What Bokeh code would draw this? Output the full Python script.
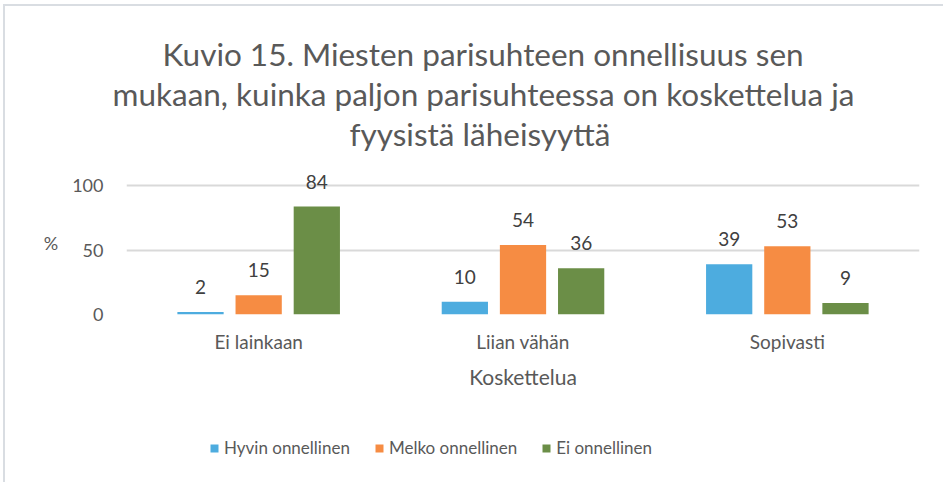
from bokeh.plotting import figure
from bokeh.layouts import column
from bokeh.models import FactorRange, Range1d, Legend, LegendItem, Title, ColumnDataSource, FixedTicker
from bokeh.transform import dodge
from bokeh.core.properties import value
from bokeh.embed import file_html
from bokeh.resources import INLINE

categories = ["Ei lainkaan", "Liian vähän", "Sopivasti"]
series = ["Hyvin onnellinen", "Melko onnellinen", "Ei onnellinen"]
hyvin = [2, 10, 39]
melko = [15, 54, 53]
ei = [84, 36, 9]
y_ticks = [0, 50, 100]
title_lines = ["Kuvio 15. Miesten parisuhteen onnellisuus sen",
               "mukaan, kuinka paljon parisuhteessa on koskettelua ja",
               "fyysistä läheisyyttä"]
x_label = "Koskettelua"
y_label = "%"

colors = ["#4DACDF", "#F68C43", "#6B8E47"]
FONT = "Lato"
TXT = "#595959"
W = 938
TSIZE = "31.5px"

src = ColumnDataSource(dict(cat=categories, hyvin=hyvin, melko=melko, ei=ei,
                            hyvin_t=[str(v) for v in hyvin],
                            melko_t=[str(v) for v in melko],
                            ei_t=[str(v) for v in ei]))

p = figure(x_range=FactorRange(*categories, range_padding=0), y_range=Range1d(0, 112),
           width=W, height=410, output_backend="svg", toolbar_location=None,
           min_border_left=121, min_border_right=24, min_border_bottom=102, min_border_top=164,
           title=title_lines[0])
p.title.align = "left"
p.title.offset = 36
p.title.text_font = FONT
p.title.text_font_size = TSIZE
p.title.text_font_style = "normal"
p.title.text_color = TXT
p.title.standoff = 0
# invisible spacer between the title block and the plot frame
p.add_layout(Title(text=" ", text_font_size="1px", standoff=15), "above")
for line, off in [(title_lines[2], 223), (title_lines[1], -14)]:
    p.add_layout(Title(text=line, align="left", offset=off, text_font=FONT,
                       text_font_size=TSIZE, text_font_style="normal",
                       text_color=TXT, standoff=0), "above")

fields = ["hyvin", "melko", "ei"]
offsets = [-0.22, 0.0, 0.22]
for f, off, c in zip(fields, offsets, colors):
    p.vbar(x=dodge("cat", off, range=p.x_range), top=f, width=0.175, source=src,
           fill_color=c, line_color=None)
    p.text(x=dodge("cat", off, range=p.x_range), y=f, text=f + "_t", source=src,
           text_align="center", text_baseline="middle", y_offset=-25,
           text_font=value(FONT), text_font_size="19px", text_color="#404040")

p.xgrid.visible = False
p.ygrid.ticker = FixedTicker(ticks=y_ticks)
p.ygrid.grid_line_color = "#D9D9D9"
p.ygrid.grid_line_width = 2
p.yaxis.ticker = FixedTicker(ticks=y_ticks)
p.outline_line_color = None

for ax in [p.xaxis[0], p.yaxis[0]]:
    ax.axis_line_color = None
    ax.major_tick_line_color = None
    ax.minor_tick_line_color = None
    ax.major_label_text_font = FONT
    ax.major_label_text_color = TXT
    ax.axis_label_text_font = FONT
    ax.axis_label_text_font_style = "normal"
    ax.axis_label_text_color = TXT

p.xaxis.axis_label = x_label
p.xaxis.major_label_text_font_size = "19px"
p.xaxis.axis_label_text_font_size = "21px"
p.xaxis.major_label_standoff = 9
p.xaxis.axis_label_standoff = 8
p.yaxis.axis_label = y_label
p.yaxis.axis_label_orientation = "horizontal"
p.yaxis.major_label_text_font_size = "18px"
p.yaxis.axis_label_text_font_size = "18px"
p.yaxis.major_label_standoff = 17
p.yaxis.axis_label_standoff = 11

# legend figure (frame aligned with the chart's frame by the column layout)
q = figure(width=W, height=66, output_backend="svg", toolbar_location=None,
           x_range=Range1d(0, 1), y_range=Range1d(0, 1), x_axis_type=None, y_axis_type=None,
           min_border=0)
q.outline_line_color = None
q.xgrid.visible = False
q.ygrid.visible = False
items = []
for c, name in zip(colors, series):
    r = q.vbar(x=[0.5], top=[0], bottom=[0], width=0.1, fill_color=c, line_color=None)
    items.append(LegendItem(label=name, renderers=[r]))
legend = Legend(items=items, orientation="horizontal", location=(83, 24),
                glyph_width=10, glyph_height=10, label_text_font=FONT,
                label_text_font_size="17px", label_text_color=TXT, spacing=24,
                label_standoff=5, padding=0, margin=0, border_line_color=None,
                background_fill_alpha=0)
q.add_layout(legend)

layout = column(p, q, spacing=0)
layout.margin = (4, 0, 0, 3)
layout.styles = {"border-top": "2px solid #D9DDE2", "border-left": "2px solid #D9DDE2"}

open("out.html", "w").write(file_html(layout, INLINE))
